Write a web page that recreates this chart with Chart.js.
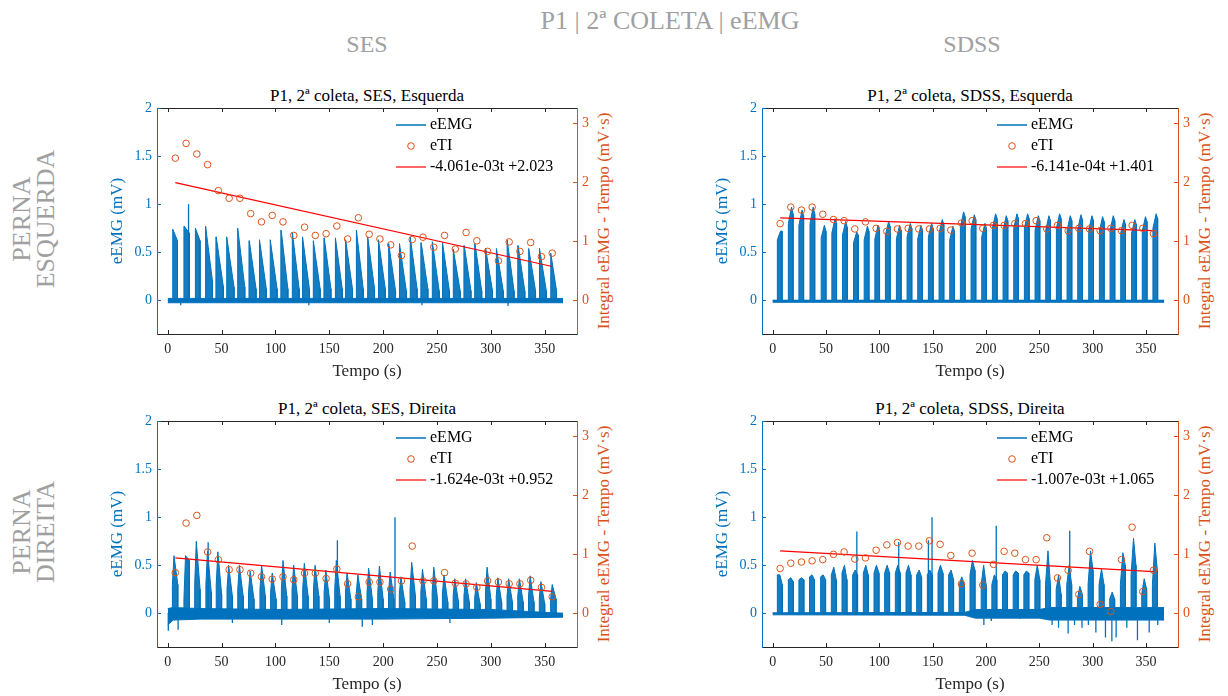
<!DOCTYPE html>
<html><head><meta charset="utf-8">
<script src="https://cdn.jsdelivr.net/npm/chart.js@4.4.1/dist/chart.umd.min.js"></script>
<style>
html,body{margin:0;padding:0;width:1228px;height:696px;overflow:hidden;background:#fff;font-family:"Liberation Serif","Times New Roman",Tinos,"DejaVu Serif",serif;}
.abs{position:absolute;white-space:nowrap;}
.c{transform:translate(-50%,-50%);}
.rt{transform:translate(-50%,-50%) rotate(-90deg);}
.row{transform:translate(-50%,-50%) rotate(-90deg);font-size:26px;line-height:24px;text-align:center;color:#a0a0a0;}
.ptitle{font-size:17px;color:#000;}
.rtitle{font-size:17px;color:#D95319;}
.box{position:absolute;}
</style></head><body>
<div class="abs c" style="left:670px;top:21px;font-size:26px;color:#a0a0a0">P1 | 2ª COLETA | eEMG</div>
<div class="abs c" style="left:367px;top:44px;font-size:24px;color:#a0a0a0">SES</div>
<div class="abs c" style="left:972px;top:44px;font-size:24px;color:#a0a0a0">SDSS</div>
<div class="abs row" style="left:34px;top:219px">PERNA<br>ESQUERDA</div>
<div class="abs row" style="left:34px;top:532px">PERNA<br>DIREITA</div>

<div class="abs c ptitle" style="left:367px;top:96px">P1, 2ª coleta, SES, Esquerda</div>
<div class="abs c ptitle" style="left:970px;top:96px">P1, 2ª coleta, SDSS, Esquerda</div>
<div class="abs c ptitle" style="left:367px;top:409px">P1, 2ª coleta, SES, Direita</div>
<div class="abs c ptitle" style="left:970px;top:409px">P1, 2ª coleta, SDSS, Direita</div>

<div class="abs rt rtitle" style="left:604px;top:221px">Integral eEMG - Tempo (mV·s)</div>
<div class="abs rt rtitle" style="left:1205px;top:221px">Integral eEMG - Tempo (mV·s)</div>
<div class="abs rt rtitle" style="left:604px;top:534px">Integral eEMG - Tempo (mV·s)</div>
<div class="abs rt rtitle" style="left:1205px;top:534px">Integral eEMG - Tempo (mV·s)</div>

<div class="box" style="left:100px;top:80px;width:520px;height:300px"><canvas id="c0" width="520" height="300"></canvas></div>
<div class="box" style="left:705px;top:80px;width:516px;height:300px"><canvas id="c1" width="516" height="300"></canvas></div>
<div class="box" style="left:100px;top:393px;width:520px;height:300px"><canvas id="c2" width="520" height="300"></canvas></div>
<div class="box" style="left:705px;top:393px;width:516px;height:300px"><canvas id="c3" width="516" height="300"></canvas></div>

<script>
// ---------- tick labels ----------
const xTicks = [0,50,100,150,200,250,300,350];
const yTicks = [0,0.5,1,1.5,2];
const yTickLabels = ['0','0.5','1','1.5','2'];
const y1Ticks = [0,1,2,3];

// ---------- eTI (integral) ----------
const etiTime = [7,17,27,37,47,57,67,77,87,97,107,117,127,137,147,157,167,177,187,197,207,217,227,237,247,257,267,277,287,297,307,317,327,337,347,357];
const sesEsqETI  = [2.41,2.66,2.48,2.30,1.86,1.73,1.73,1.47,1.33,1.44,1.33,1.10,1.24,1.10,1.13,1.26,1.04,1.40,1.12,1.04,0.94,0.76,1.03,1.07,0.90,1.10,0.87,1.15,1.01,0.83,0.67,0.99,0.83,0.98,0.74,0.80];
const sdssEsqETI = [1.30,1.58,1.53,1.58,1.46,1.37,1.35,1.21,1.33,1.22,1.17,1.21,1.22,1.21,1.21,1.22,1.19,1.31,1.35,1.22,1.27,1.27,1.30,1.30,1.35,1.21,1.27,1.18,1.22,1.21,1.18,1.22,1.18,1.27,1.22,1.13];
const sesDirETI  = [0.69,1.53,1.66,1.04,0.91,0.74,0.74,0.68,0.62,0.58,0.62,0.57,0.68,0.68,0.59,0.75,0.50,0.28,0.53,0.53,0.41,0.55,1.14,0.55,0.55,0.69,0.51,0.50,0.44,0.55,0.53,0.50,0.50,0.56,0.44,0.28];
const sdssDirETI = [0.76,0.85,0.87,0.89,0.91,1.00,1.04,0.92,0.94,1.07,1.16,1.20,1.14,1.14,1.23,1.17,0.98,0.50,1.02,0.48,0.83,1.05,1.02,0.91,0.91,1.28,0.60,0.73,0.32,1.05,0.15,0.03,0.91,1.46,0.37,0.73];

// ---------- linear fits (slope, intercept) ----------
const sesEsqFit  = [-4.061e-03, 2.023];
const sdssEsqFit = [-6.141e-04, 1.401];
const sesDirFit  = [-1.624e-03, 0.952];
const sdssDirFit = [-1.007e-03, 1.065];
const fitLabels = ['-4.061e-03t +2.023','-6.141e-04t +1.401','-1.624e-03t +0.952','-1.007e-03t +1.065'];

// ---------- eEMG bursts (start / stop time s, onset / peak / end amplitude mV) ----------
const signalEnd = 367;
const sesEsqStart = [4.5,15,25.5,35,44.7,54.6,64.8,75.4,85,95,105,115.5,125,135,145,155.5,165,175,185.5,195.5,205,215,225,235,245.5,255,265,275,285,295,305,315,325,335,345,355.5];
const sesEsqStop  = [9,20,30,41.5,51.5,61.5,71.5,82,91.5,101.5,111.5,122,131.5,141.5,151.5,162,171.5,181.5,192,202,211.5,221.5,231.5,241.5,252,261.5,271.5,281.5,291.5,301.5,311.5,321.5,331.5,341.5,351.5,361];
const sesEsqPeak  = [0.74,0.77,0.75,0.77,0.66,0.66,0.75,0.62,0.63,0.63,0.73,0.71,0.66,0.62,0.65,0.65,0.63,0.73,0.66,0.63,0.59,0.59,0.66,0.60,0.61,0.60,0.53,0.57,0.59,0.54,0.54,0.63,0.57,0.54,0.54,0.49];
const sesEsqEnd   = [0.62,0.70,0.62,0.20,0.15,0.14,0.14,0.12,0.12,0.12,0.12,0.12,0.12,0.12,0.12,0.12,0.12,0.12,0.12,0.12,0.10,0.10,0.12,0.12,0.10,0.10,0.10,0.10,0.10,0.10,0.10,0.10,0.10,0.10,0.10,0.10];

const sdssEsqStart = [4.4,14.7,24.6,35,45.5,55.5,65.5,75.8,85.8,95.8,105.7,116,126,136,146,156,166,176,186,196,206,216,226,236,246,256,266,276,286,296.3,306.3,316.3,326.3,336.5,346.5,356.5];
const sdssEsqOnset = [0.63,0.80,0.78,0.80,0.65,0.70,0.68,0.60,0.63,0.64,0.68,0.64,0.66,0.64,0.66,0.70,0.63,0.76,0.74,0.66,0.75,0.73,0.75,0.75,0.73,0.73,0.75,0.73,0.74,0.73,0.72,0.73,0.70,0.70,0.72,0.75];
const sdssEsqPeak  = [0.72,0.97,0.94,0.97,0.78,0.85,0.82,0.71,0.77,0.78,0.82,0.78,0.80,0.78,0.80,0.84,0.77,0.92,0.89,0.80,0.90,0.88,0.90,0.90,0.88,0.88,0.90,0.88,0.89,0.88,0.87,0.88,0.84,0.84,0.87,0.90];
const sdssEsqEnd   = [0.72,0.90,0.88,0.90,0.72,0.80,0.76,0.68,0.72,0.73,0.77,0.73,0.75,0.73,0.75,0.79,0.72,0.87,0.84,0.75,0.85,0.83,0.85,0.85,0.83,0.83,0.85,0.83,0.84,0.83,0.82,0.83,0.79,0.79,0.82,0.85];

const sesDirStart = [4.3,15,25,35.4,45,55,65,75,85.6,95.5,105.5,115.4,125.3,135.3,145.2,155,165,175,185,195,205,215,225,235,245.5,255,265,275,285,295,305,315,325,335,345,355.5];
const sesDirOnset = [0.30,0.15,0.30,0.30,0.30,0.25,0.25,0.22,0.25,0.22,0.25,0.25,0.25,0.25,0.22,0.25,0.22,0.20,0.22,0.22,0.22,0.20,0.25,0.22,0.22,0.20,0.18,0.18,0.16,0.22,0.18,0.18,0.18,0.18,0.16,0.15];
const sesDirPeak  = [0.60,0.60,0.75,0.65,0.64,0.50,0.50,0.44,0.50,0.42,0.55,0.50,0.52,0.50,0.45,0.55,0.42,0.40,0.47,0.49,0.43,0.38,0.53,0.46,0.48,0.40,0.36,0.36,0.32,0.48,0.37,0.36,0.36,0.39,0.33,0.30];
const sesDirEnd   = [0.30,0.55,0.25,0.22,0.20,0.18,0.18,0.15,0.18,0.15,0.18,0.18,0.18,0.18,0.15,0.18,0.15,0.15,0.15,0.15,0.15,0.12,0.18,0.15,0.15,0.12,0.12,0.12,0.10,0.15,0.12,0.12,0.12,0.12,0.10,0.15];

const sdssDirStart = [4.4,14.7,24.6,34.6,45,55,65,75,85,95,105,115,125,135,145,155,165,175,185,195.5,205.5,215.5,225.5,235.5,245.8,255.8,265.8,275.7,285.7,295.7,306,316,326,336,346,356];
const sdssDirOnset = [0.40,0.35,0.35,0.38,0.38,0.40,0.42,0.40,0.42,0.42,0.42,0.42,0.42,0.40,0.40,0.42,0.40,0.30,0.40,0.30,0.30,0.40,0.40,0.40,0.35,0.30,0.25,0.30,0.15,0.30,0.30,0.15,0.30,0.40,0.20,0.30];
const sdssDirPeak  = [0.40,0.37,0.37,0.40,0.40,0.48,0.50,0.45,0.50,0.50,0.50,0.50,0.50,0.45,0.45,0.50,0.45,0.38,0.55,0.50,0.40,0.44,0.44,0.44,0.50,0.65,0.40,0.50,0.28,0.65,0.46,0.22,0.63,0.78,0.36,0.73];
const sdssDirEnd   = [0.30,0.33,0.35,0.35,0.35,0.35,0.35,0.40,0.40,0.42,0.42,0.42,0.40,0.38,0.40,0.42,0.35,0.30,0.45,0.30,0.35,0.42,0.42,0.42,0.35,0.30,0.20,0.30,0.20,0.45,0.30,0.15,0.50,0.50,0.25,0.45];

// isolated spikes (time s, amplitude mV)
const sesEsqSpikeT = [19.3];              const sesEsqSpikeV = [1.0];
const sdssEsqSpikeT = [];                 const sdssEsqSpikeV = [];
const sesDirSpikeT = [37.5,157.5,211];    const sesDirSpikeV = [0.74,0.76,1.0];
const sdssDirSpikeT = [78.9,118.2,146,149.4,209.6,278.5]; const sdssDirSpikeV = [0.85,0.74,0.76,1.0,0.91,0.86];
// negative excursions
const sesEsqDipT = [12,131,236,316]; const sesEsqDipV = [-0.05,-0.05,-0.05,-0.06];
const sdssEsqDipT = []; const sdssEsqDipV = [];
const sesDirDipT = [0.5,9.6,60,105.8,150,180.6,190,262]; const sesDirDipV = [-0.18,-0.17,-0.10,-0.12,-0.10,-0.14,-0.12,-0.10];
const sdssDirDipT = [198,205,232,262,268,277,283,290,296,303,312,318,322,332,342,353,361];
const sdssDirDipV = [-0.12,-0.08,-0.06,-0.12,-0.15,-0.21,-0.12,-0.15,-0.12,-0.20,-0.25,-0.29,-0.25,-0.15,-0.28,-0.20,-0.12];
// baseline noise band (time s, low / high mV)
const sesEsqBandT = [0,367];  const sesEsqBandLo = [-0.025,-0.025];  const sesEsqBandHi = [0.02,0.02];
const sdssEsqBandT = [0,367]; const sdssEsqBandLo = [-0.02,-0.02]; const sdssEsqBandHi = [0.0,0.0];
const sesDirBandT = [0,5,30,100,200,300,367]; const sesDirBandLo = [-0.12,-0.07,-0.06,-0.06,-0.06,-0.05,-0.04]; const sesDirBandHi = [0.05,0.06,0.05,0.04,0.05,0.04,0.0];
const sdssDirBandT = [0,180,190,250,260,367]; const sdssDirBandLo = [-0.015,-0.02,-0.05,-0.05,-0.07,-0.07]; const sdssDirBandHi = [0.005,0.01,0.04,0.04,0.06,0.06];

// ---------- styles ----------
const BLUE = '#0072BD', ORANGE = '#D95319', RED = '#FF0000', AX = '#262626';
const FONT = '"Liberation Serif", "Times New Roman", Tinos, "DejaVu Serif", serif';

function burstPoints(starts, stops, onsets, peaks, ends, peakDelay){
  const pts = [{x:0,y:0}];
  starts.forEach((s,i)=>{
    const on = onsets ? onsets[i] : peaks[i];
    const e = stops[i];
    pts.push({x:s,y:0},{x:s,y:on},{x:s+peakDelay,y:peaks[i]},{x:e,y:ends[i]},{x:e,y:0});
  });
  pts.push({x:signalEnd,y:0});
  return pts;
}
function vertPoints(ts, vs){
  const pts = [];
  ts.forEach((t,i)=>{ pts.push({x:t,y:0},{x:t,y:vs[i]},{x:t,y:null}); });
  return pts;
}
function seriesPoints(ts, vs){ return ts.map((t,i)=>({x:t,y:vs[i]})); }
function stopsFrom(starts, dur){ return starts.map(s=>s+dur); }

const panels = [
  {id:'c0', eti:sesEsqETI, fit:sesEsqFit, label:fitLabels[0],
   burst:[sesEsqStart,sesEsqStop,null,sesEsqPeak,sesEsqEnd,0.3],
   spikes:[sesEsqSpikeT,sesEsqSpikeV], dips:[sesEsqDipT,sesEsqDipV], band:[sesEsqBandT,sesEsqBandLo,sesEsqBandHi]},
  {id:'c1', eti:sdssEsqETI, fit:sdssEsqFit, label:fitLabels[1],
   burst:[sdssEsqStart,stopsFrom(sdssEsqStart,4.4),sdssEsqOnset,sdssEsqPeak,sdssEsqEnd,3.0],
   spikes:[sdssEsqSpikeT,sdssEsqSpikeV], dips:[sdssEsqDipT,sdssEsqDipV], band:[sdssEsqBandT,sdssEsqBandLo,sdssEsqBandHi]},
  {id:'c2', eti:sesDirETI, fit:sesDirFit, label:fitLabels[2],
   burst:[sesDirStart,stopsFrom(sesDirStart,5.0),sesDirOnset,sesDirPeak,sesDirEnd,1.5],
   spikes:[sesDirSpikeT,sesDirSpikeV], dips:[sesDirDipT,sesDirDipV], band:[sesDirBandT,sesDirBandLo,sesDirBandHi]},
  {id:'c3', eti:sdssDirETI, fit:sdssDirFit, label:fitLabels[3],
   burst:[sdssDirStart,stopsFrom(sdssDirStart,4.6),sdssDirOnset,sdssDirPeak,sdssDirEnd,2.3],
   spikes:[sdssDirSpikeT,sdssDirSpikeV], dips:[sdssDirDipT,sdssDirDipV], band:[sdssDirBandT,sdssDirBandLo,sdssDirBandHi]}
];

const frame = {
  id:'frame',
  afterDraw(chart){
    const {ctx, chartArea:a, scales} = chart;
    ctx.save(); ctx.lineWidth = 1;
    const L = 4;
    ctx.strokeStyle = AX;
    ctx.beginPath();
    ctx.moveTo(a.left, a.top+0.5); ctx.lineTo(a.right, a.top+0.5);
    scales.x.ticks.forEach(t=>{
      const px = Math.round(scales.x.getPixelForValue(t.value))+0.5;
      ctx.moveTo(px, a.bottom); ctx.lineTo(px, a.bottom-L);
      ctx.moveTo(px, a.top); ctx.lineTo(px, a.top+L);
    });
    ctx.stroke();
    ctx.strokeStyle = BLUE; ctx.beginPath();
    scales.y.ticks.forEach(t=>{
      const py = Math.round(scales.y.getPixelForValue(t.value))+0.5;
      ctx.moveTo(a.left, py); ctx.lineTo(a.left+L, py);
    });
    ctx.stroke();
    ctx.strokeStyle = ORANGE; ctx.beginPath();
    scales.y1.ticks.forEach(t=>{
      const py = Math.round(scales.y1.getPixelForValue(t.value))+0.5;
      ctx.moveTo(a.right, py); ctx.lineTo(a.right-L, py);
    });
    ctx.stroke();
    ctx.restore();
  }
};

const inLegend = {
  id:'inLegend',
  afterDraw(chart, args, opts){
    const {ctx, chartArea:a} = chart;
    const R = a.right, T = a.top;
    ctx.save();
    ctx.font = '16px ' + FONT; ctx.fillStyle = '#000'; ctx.textBaseline = 'middle'; ctx.textAlign = 'left';
    const rows = [T+17, T+38, T+59];
    ctx.lineWidth = 1.5; ctx.strokeStyle = BLUE;
    ctx.beginPath(); ctx.moveTo(R-181, rows[0]); ctx.lineTo(R-151, rows[0]); ctx.stroke();
    ctx.lineWidth = 1; ctx.strokeStyle = ORANGE;
    ctx.beginPath(); ctx.arc(R-166, rows[1], 3.3, 0, Math.PI*2); ctx.stroke();
    ctx.lineWidth = 1.2; ctx.strokeStyle = RED;
    ctx.beginPath(); ctx.moveTo(R-181, rows[2]); ctx.lineTo(R-151, rows[2]); ctx.stroke();
    ctx.fillText('eEMG', R-147, rows[0]);
    ctx.fillText('eTI', R-147, rows[1]);
    ctx.fillText(opts.text, R-147, rows[2]);
    ctx.restore();
  }
};

function build(){
panels.forEach(p=>{
  const [bs, bst, bo, bp, be, pd] = p.burst;
  const t0 = etiTime[0], t1 = etiTime[etiTime.length-1];
  const datasets = [
    {label:'eTI', data:seriesPoints(etiTime, p.eti), yAxisID:'y1', showLine:false,
     pointRadius:3.3, pointBorderColor:ORANGE, pointBackgroundColor:'rgba(0,0,0,0)', pointBorderWidth:1, order:0},
    {label:'fit', data:[{x:t0,y:p.fit[0]*t0+p.fit[1]},{x:t1,y:p.fit[0]*t1+p.fit[1]}], yAxisID:'y1',
     borderColor:RED, borderWidth:1.2, pointRadius:0, order:1},
    {label:'eEMG', data:burstPoints(bs,bst,bo,bp,be,pd), yAxisID:'y', borderColor:BLUE, backgroundColor:'rgba(0,114,189,0.92)',
     borderWidth:1, pointRadius:0, fill:'origin', order:2},
    {label:'spikes', data:vertPoints(p.spikes[0],p.spikes[1]), yAxisID:'y', borderColor:BLUE, borderWidth:1.3, pointRadius:0, spanGaps:false, order:2},
    {label:'dips', data:vertPoints(p.dips[0],p.dips[1]), yAxisID:'y', borderColor:BLUE, borderWidth:1.3, pointRadius:0, spanGaps:false, order:2},
    {label:'bandHi', data:seriesPoints(p.band[0],p.band[2]), yAxisID:'y', borderColor:BLUE, backgroundColor:BLUE, borderWidth:1, pointRadius:0, fill:'+1', order:3},
    {label:'bandLo', data:seriesPoints(p.band[0],p.band[1]), yAxisID:'y', borderColor:BLUE, borderWidth:1, pointRadius:0, fill:false, order:3}
  ];
  new Chart(document.getElementById(p.id), {
    type:'line',
    data:{datasets},
    plugins:[frame, inLegend],
    options:{
      responsive:false, animation:false, events:[],
      layout:{padding:{top:28,bottom:0,left:0,right:0}},
      elements:{line:{tension:0}},
      plugins:{legend:{display:false}, tooltip:{enabled:false}, title:{display:false}, inLegend:{text:p.label}},
      scales:{
        x:{type:'linear', min:-10, max:380,
           afterBuildTicks(s){ s.ticks = xTicks.map(v=>({value:v})); },
           afterFit(s){ s.height = 46; },
           grid:{display:false, drawTicks:false}, border:{display:true, color:AX, width:1},
           ticks:{padding:7, color:AX, font:{family:FONT, size:14}, maxRotation:0, autoSkip:false, callback:v=>String(v)},
           title:{display:true, text:'Tempo (s)', color:AX, font:{family:FONT, size:17, lineHeight:1}, padding:{top:0,bottom:0}}},
        y:{type:'linear', position:'left', min:-0.35, max:2,
           afterBuildTicks(s){ s.ticks = yTicks.map(v=>({value:v})); },
           afterFit(s){ s.width = 57; },
           grid:{display:false, drawTicks:false}, border:{display:true, color:BLUE, width:1},
           ticks:{padding:5, color:BLUE, font:{family:FONT, size:14}, autoSkip:false, callback:(v)=>yTickLabels[yTicks.indexOf(v)]},
           title:{display:true, text:'eEMG (mV)', color:BLUE, font:{family:FONT, size:17, lineHeight:1}, padding:{top:9.5,bottom:0}}},
        y1:{type:'linear', position:'right', min:-0.5705, max:3.26,
           afterBuildTicks(s){ s.ticks = y1Ticks.map(v=>({value:v})); },
           afterFit(s){ s.width = 43; },
           grid:{display:false, drawTicks:false}, border:{display:true, color:ORANGE, width:1},
           ticks:{padding:5, color:ORANGE, font:{family:FONT, size:14}, autoSkip:false, callback:v=>String(v)}}
      }
    }
  });
});
}
if (document.fonts && document.fonts.load) {
  Promise.all([document.fonts.load('16px "Liberation Serif"'), document.fonts.load('16px "DejaVu Serif"')]).then(build, build);
} else { build(); }
</script>
</body></html>
